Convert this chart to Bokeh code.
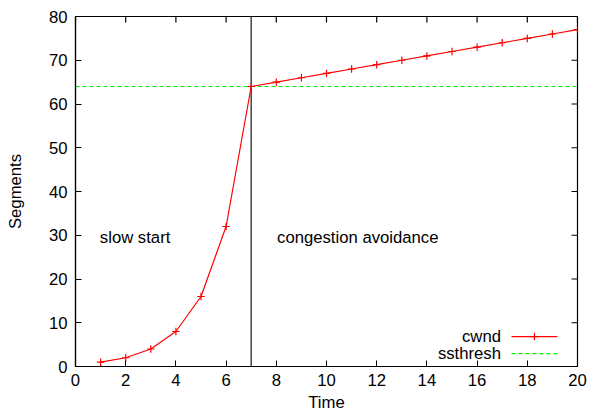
from bokeh.plotting import figure
from bokeh.models import Label, Range1d, FixedTicker, ColumnDataSource
from bokeh.embed import file_html
from bokeh.resources import INLINE

# TCP congestion window over time
time = list(range(1, 21))
cwnd = [1, 2, 4, 8, 16, 32, 64, 65, 66, 67, 68, 69, 70, 71, 72, 73, 74, 75, 76, 77]
ssthresh = 64
threshold_time = 7
x_ticks = [0, 2, 4, 6, 8, 10, 12, 14, 16, 18, 20]
y_ticks = [0, 10, 20, 30, 40, 50, 60, 70, 80]

FONT = "Liberation Sans"
FS = "16.7px"
X_MAX, Y_MAX = 20, 80

p = figure(width=589, height=415, output_backend="svg", toolbar_location=None,
           x_range=Range1d(0, X_MAX), y_range=Range1d(0, Y_MAX),
           min_border_left=75, min_border_right=12, min_border_top=16, min_border_bottom=49,
           x_axis_label="Time", y_axis_label="Segments")
p.background_fill_color = "white"
p.border_fill_color = "white"
p.grid.visible = False
p.outline_line_color = "black"
p.outline_line_width = 1.2


def style_axis(ax, ticks):
    ax.ticker = FixedTicker(ticks=ticks)
    ax.major_tick_in = 6
    ax.major_tick_out = 0
    ax.minor_tick_line_color = None
    ax.axis_line_color = "black"
    ax.axis_line_width = 1.2
    ax.major_tick_line_color = "black"
    ax.major_label_text_font = FONT
    ax.major_label_text_font_size = FS
    ax.major_label_text_color = "black"
    ax.axis_label_text_font = FONT
    ax.axis_label_text_font_style = "normal"
    ax.axis_label_text_font_size = FS
    ax.axis_label_text_color = "black"


style_axis(p.xaxis[0], x_ticks)
style_axis(p.yaxis[0], y_ticks)
p.xaxis[0].major_label_standoff = 7
p.xaxis[0].axis_label_standoff = 4
p.yaxis[0].major_label_standoff = 8
p.yaxis[0].axis_label_standoff = 21

# mirrored tick marks on the top and right edges (6 px long)
tick_dx = 6 / 502 * X_MAX
tick_dy = 6 / 350 * Y_MAX
p.segment(x0=x_ticks, y0=[Y_MAX] * len(x_ticks), x1=x_ticks, y1=[Y_MAX - tick_dy] * len(x_ticks),
          line_color="black", line_width=1.2)
p.segment(x0=[X_MAX] * len(y_ticks), y0=y_ticks, x1=[X_MAX - tick_dx] * len(y_ticks), y1=y_ticks,
          line_color="black", line_width=1.2)

src = ColumnDataSource(dict(time=time, cwnd=cwnd))

# ssthresh level
p.line([0, X_MAX], [ssthresh, ssthresh], line_color="#00ee00", line_width=1.2, line_dash="4 3")

# boundary between slow start and congestion avoidance
p.line([threshold_time, threshold_time], [0, Y_MAX], line_color="#444444", line_width=1.5)

# cwnd curve
p.line("time", "cwnd", source=src, line_color="#ff0000", line_width=1.2)
p.scatter("time", "cwnd", source=src, marker="cross", size=7.5, line_color="#ff0000", line_width=1.2)

# phase labels
p.add_layout(Label(x=0.97, y=29.6, text="slow start", text_font=FONT, text_font_size=FS,
                   text_baseline="middle", text_color="black"))
p.add_layout(Label(x=8.03, y=29.6, text="congestion avoidance", text_font=FONT, text_font_size=FS,
                   text_baseline="middle", text_color="black"))

# key, text on the left of each sample
key_x0, key_x1, key_text_x = 17.37, 19.2, 16.95
key_y = [6.85, 2.95]
p.add_layout(Label(x=key_text_x, y=key_y[0], text="cwnd", text_font=FONT, text_font_size=FS,
                   text_align="right", text_baseline="middle", text_color="black"))
p.add_layout(Label(x=key_text_x, y=key_y[1], text="ssthresh", text_font=FONT, text_font_size=FS,
                   text_align="right", text_baseline="middle", text_color="black"))
p.line([key_x0, key_x1], [key_y[0], key_y[0]], line_color="#ff0000", line_width=1.2)
p.scatter([(key_x0 + key_x1) / 2], [key_y[0]], marker="cross", size=7.5, line_color="#ff0000", line_width=1.2)
p.line([key_x0, key_x1], [key_y[1], key_y[1]], line_color="#00ee00", line_width=1.2, line_dash="4 3")

open("out.html", "w").write(file_html(p, INLINE))
